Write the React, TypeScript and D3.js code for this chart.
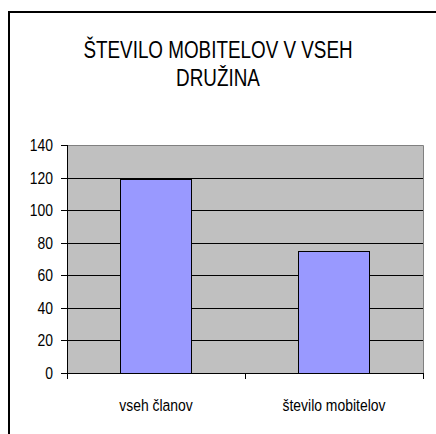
import React from "react";
import * as d3 from "d3";

const categories = ["vseh članov", "število mobitelov"];
const values = [119, 75];
const yTicks = [0, 20, 40, 60, 80, 100, 120, 140];
const titleLines = ["ŠTEVILO MOBITELOV V VSEH", "DRUŽINA"];

const W = 436;
const H = 434;
const plot = {left: 67, right: 423, top: 145, bottom: 373};
const squeeze = 0.82; // the original fonts look horizontally narrowed

// text with a horizontal squeeze around its anchor point
function Narrow({x, y, anchor, size, children}: any) {
  return (
    <text
      transform={`translate(${x},${y}) scale(${squeeze},1)`}
      textAnchor={anchor}
      fontSize={size}
      fontFamily="'Liberation Sans', Arial, sans-serif"
      fill="#000"
    >
      {children}
    </text>
  );
}

export default function App() {
  const x = d3
    .scaleBand()
    .domain(categories)
    .range([plot.left, plot.right])
    .paddingInner(0.6)
    .paddingOuter(0.3);

  const y = d3.scaleLinear().domain([0, 140]).range([plot.bottom, plot.top]);

  const step = x.step();
  const catEdges = d3.range(categories.length + 1).map(i => plot.left + i * step);

  return (
    <svg width={W} height={H} style={{position: "absolute", left: 0, top: 0}}>
      <rect x={0} y={0} width={W} height={H} fill="#fff"/>
      {/* chart area frame, runs off the right and bottom edges */}
      <rect x={9} y={12} width={W + 20} height={H + 20} fill="none" stroke="#000" strokeWidth={2}/>

      {titleLines.map((t, i) => (
        <Narrow key={i} x={218} y={58 + i * 28} anchor="middle" size={23}>{t}</Narrow>
      ))}

      {/* plot background */}
      <rect x={plot.left} y={plot.top} width={plot.right - plot.left} height={plot.bottom - plot.top} fill="#c0c0c0"/>
      <path
        d={`M${plot.left},${plot.top + 0.5}H${plot.right + 0.5}V${plot.bottom}`}
        fill="none"
        stroke="#808080"
        strokeWidth={1}
      />

      {/* gridlines */}
      {yTicks.filter(t => t > 0 && t < 140).map(t => (
        <line key={t} x1={plot.left} x2={plot.right} y1={Math.round(y(t)) + 0.5} y2={Math.round(y(t)) + 0.5} stroke="#000"/>
      ))}

      {/* bars */}
      {categories.map((c, i) => (
        <rect
          key={c}
          x={Math.round(x(c)!) + 0.5}
          y={Math.round(y(values[i])) + 0.5}
          width={Math.round(x.bandwidth())}
          height={Math.round(y(0) - y(values[i]))}
          fill="#9999ff"
          stroke="#000"
          strokeWidth={1}
        />
      ))}

      {/* y axis */}
      <line x1={plot.left + 0.5} x2={plot.left + 0.5} y1={plot.top} y2={plot.bottom} stroke="#000"/>
      {yTicks.map(t => (
        <g key={t}>
          <line x1={plot.left - 6} x2={plot.left} y1={Math.round(y(t)) + 0.5} y2={Math.round(y(t)) + 0.5} stroke="#000"/>
          <Narrow x={53} y={y(t) + 6} anchor="end" size={17}>{t}</Narrow>
        </g>
      ))}

      {/* x axis */}
      <line x1={plot.left} x2={plot.right + 1} y1={plot.bottom + 0.5} y2={plot.bottom + 0.5} stroke="#000"/>
      {catEdges.map((e, i) => (
        <line key={i} x1={Math.round(e) + 0.5} x2={Math.round(e) + 0.5} y1={plot.bottom} y2={plot.bottom + 6} stroke="#000"/>
      ))}
      {categories.map(c => (
        <Narrow key={c} x={x(c)! + x.bandwidth() / 2} y={411} anchor="middle" size={17}>{c}</Narrow>
      ))}
    </svg>
  );
}
